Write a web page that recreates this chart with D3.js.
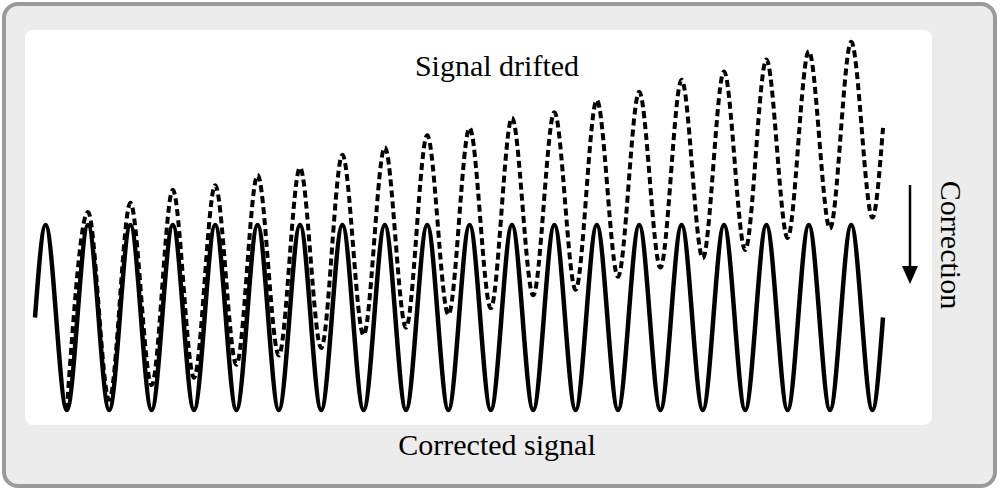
<!DOCTYPE html>
<html><head><meta charset="utf-8">
<script src="https://cdn.jsdelivr.net/npm/d3@7"></script>
<style>body{margin:0;background:#fff}svg{display:block}</style>
</head><body><svg id="c" width="1001" height="492"></svg>
<script>
// Extremes of each wave: quarter-period index and amplitude
const solidValues = [0].concat(d3.range(40).map(i => i % 2 === 0 ? 1 : -1)).concat([0]);
const solidQ = [0].concat(d3.range(40).map(i => 1 + 2 * i)).concat([80]);
const driftPeaks = [1.14,1.24,1.38,1.43,1.54,1.62,1.76,1.84,1.97,2.05,2.16,2.22,2.35,2.44,2.57,2.66,2.79,2.88,2.98];
const driftTroughs = [-1.0,-0.89,-0.73,-0.65,-0.51,-0.41,-0.33,-0.19,-0.11,0.03,0.10,0.24,0.30,0.44,0.54,0.64,0.73,0.86,0.96,1.08];
const driftEnd = 2.05;
const labels = {top:"Signal drifted", bottom:"Corrected signal", side:"Correction"};

const svg = d3.select("#c");
svg.append("rect").attr("x",4).attr("y",4).attr("width",991).attr("height",482).attr("rx",14)
  .attr("fill","#ececec").attr("stroke","#9a9a9a").attr("stroke-width",4);
svg.append("rect").attr("x",25).attr("y",30).attr("width",907).attr("height",395).attr("rx",8).attr("fill","#fff");

const x = d3.scaleLinear().domain([0,80]).range([35,883]);
const y = d3.scaleLinear().domain([-1,1]).range([410,225]);
const line = d3.line().x(d=>x(d[0])).y(d=>y(d[1])).curve(d3.curveMonotoneX);

const solid = solidQ.map((q,i)=>[q, solidValues[i]]);
const drift = [];
driftTroughs.forEach((v,i)=>{ drift.push([3+4*i, v]); if(i<driftPeaks.length) drift.push([5+4*i, driftPeaks[i]]); });
drift.push([80, driftEnd]);

svg.append("path").attr("d", line(drift)).attr("fill","none").attr("stroke","#000")
  .attr("stroke-width",4).attr("stroke-dasharray","7,4");
svg.append("path").attr("d", line(solid)).attr("fill","none").attr("stroke","#000").attr("stroke-width",4.5);

const font = "'Liberation Serif','DejaVu Serif',serif";
svg.append("text").attr("x",497).attr("y",76).attr("text-anchor","middle").attr("font-family",font).attr("font-size",30).text(labels.top);
svg.append("text").attr("x",497).attr("y",455).attr("text-anchor","middle").attr("font-family",font).attr("font-size",30).text(labels.bottom);
svg.append("text").attr("transform","translate(941,245) rotate(90)").attr("text-anchor","middle").attr("font-family",font).attr("font-size",30).text(labels.side);
svg.append("line").attr("x1",910).attr("y1",185).attr("x2",910).attr("y2",272).attr("stroke","#000").attr("stroke-width",2.5);
svg.append("path").attr("d","M902,266 L910,284 L918,266 Z").attr("fill","#000");
</script></body></html>
